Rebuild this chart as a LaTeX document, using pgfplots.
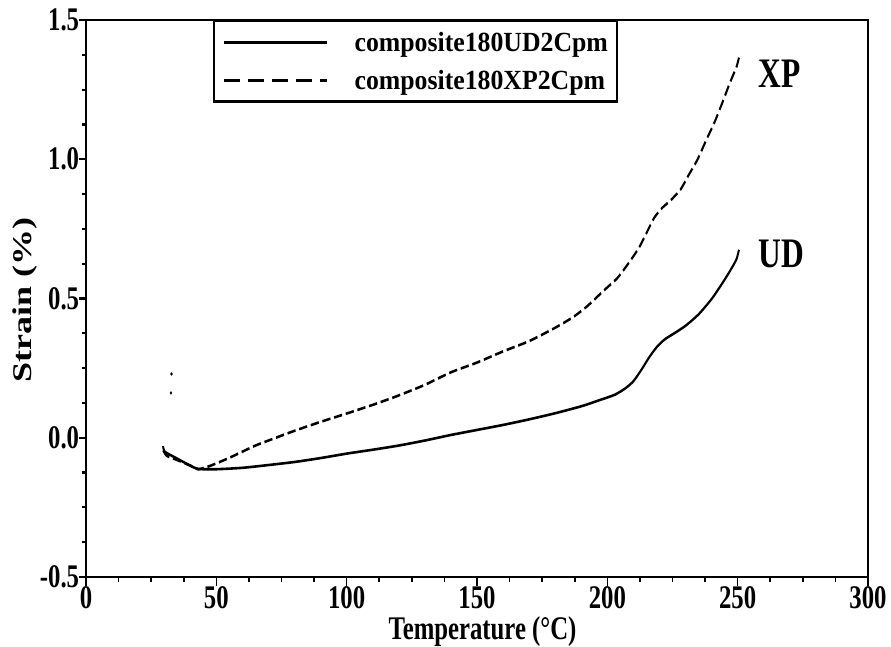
\documentclass[border=0pt]{standalone}
\usepackage{pgfplots}
\pgfplotsset{compat=1.18}
\usepackage{fontspec}
\setmainfont{Liberation Serif}
\newfontfamily\legfont[FakeStretch=1.24]{Liberation Serif}

\pgfplotsset{
  mylegline/.style={legend image code/.code={\draw[##1] (0pt,0pt) -- (137pt,0pt);}},
  mylegdash/.style={legend image code/.code={\draw[black, line width=2.6pt, dash pattern=on 22pt off 10pt] (0pt,0pt) -- (137pt,0pt);}},
}

\pgfplotstableread{
T v
29.6 -0.030
30.2 -0.050
35 -0.075
40 -0.100
43 -0.112
50 -0.113
60 -0.108
70 -0.098
80 -0.087
90 -0.073
100 -0.057
110 -0.043
120 -0.028
130 -0.010
140 0.010
150 0.028
160 0.046
170 0.066
180 0.088
190 0.113
197 0.135
203 0.155
207 0.178
210 0.203
213 0.243
216 0.288
219 0.326
222 0.353
226 0.377
230 0.402
235 0.443
240 0.498
244 0.553
247 0.598
249.5 0.640
250.5 0.675
}\udtable

\pgfplotstableread{
T v
29.6 -0.045
31 -0.065
35 -0.080
40 -0.100
43 -0.113
47 -0.103
50 -0.092
55 -0.072
60 -0.050
65 -0.028
70 -0.010
80 0.025
90 0.057
100 0.087
110 0.118
120 0.152
130 0.190
140 0.235
150 0.270
160 0.310
170 0.347
180 0.395
187 0.434
192 0.470
196 0.505
200 0.540
204 0.575
208 0.625
212 0.680
215 0.735
218 0.790
221 0.825
224 0.850
228 0.890
231 0.940
234.5 0.997
238 1.070
241 1.130
244 1.200
247 1.274
249.5 1.330
250.5 1.365
}\xptable

\begin{document}
\scalebox{0.75}[1]{%
\begin{tikzpicture}
\useasboundingbox (-114.67pt,-70pt) rectangle (1073.33pt,577pt);
\begin{axis}[
  at={(0pt,0pt)}, anchor=south west,
  width=1042.67pt, height=557pt, scale only axis,
  xmin=0, xmax=300, ymin=-0.5, ymax=1.5,
  axis line style={line width=2.8pt},
  tick align=outside, xtick pos=bottom, ytick pos=left,
  major tick length=9pt, minor tick length=5pt,
  every tick/.style={black, line width=2.2pt},
  xtick={0,50,...,300}, xticklabels={0,50,100,150,200,250,300},
  minor x tick num=3,
  ytick={-0.5,0,0.5,1,1.5}, yticklabels={-0.5,0.0,0.5,1.0,1.5},
  minor y tick num=3,
  ticklabel style={font=\fontsize{33}{36}\selectfont\bfseries},
  xticklabel style={anchor=north, inner sep=0pt, yshift=0pt},
  yticklabel style={anchor=east, inner sep=0pt, xshift=0pt},
  xlabel={Temperature (°C)},
  xlabel style={at={(axis description cs:0.507,0)}, anchor=base, inner sep=0pt, yshift=-63pt, font=\fontsize{33}{37}\selectfont\bfseries},
  ylabel={Strain (\%)},
  ylabel style={at={(axis description cs:-0.0626,0.497)}, anchor=south, inner sep=0pt, font=\fontsize{36}{40}\selectfont\bfseries},
  legend style={at={(axis description cs:0.1624,1)}, anchor=north west, draw=black, line width=2.5pt,
    inner xsep=12pt, inner ysep=11pt, row sep=17pt, column sep=36pt,
    font=\fontsize{27.7}{30}\selectfont\legfont\bfseries, nodes={inner sep=0pt}},
  legend cell align=left,
  mylegline,
]
\addplot[black, line width=2.6pt, smooth, tension=0.4] table[x=T,y=v] {\udtable};
\addlegendentry{composite180UD2Cpm}
\addplot[black, line width=2.6pt, dash pattern=on 11pt off 5pt, smooth, tension=0.4, mylegdash] table[x=T,y=v] {\xptable};
\addlegendentry{composite180XP2Cpm}
\addplot[only marks, mark=*, mark size=1.4pt, black, forget plot] coordinates {(32.8,0.229) (32.6,0.161)};
\node[anchor=base west, inner sep=0pt, font=\fontsize{42}{46}\selectfont\bfseries] at (axis cs:257.9,1.259) {XP};
\node[anchor=base west, inner sep=0pt, font=\fontsize{42}{46}\selectfont\bfseries] at (axis cs:257.9,0.613) {UD};
\end{axis}
\end{tikzpicture}}
\end{document}
